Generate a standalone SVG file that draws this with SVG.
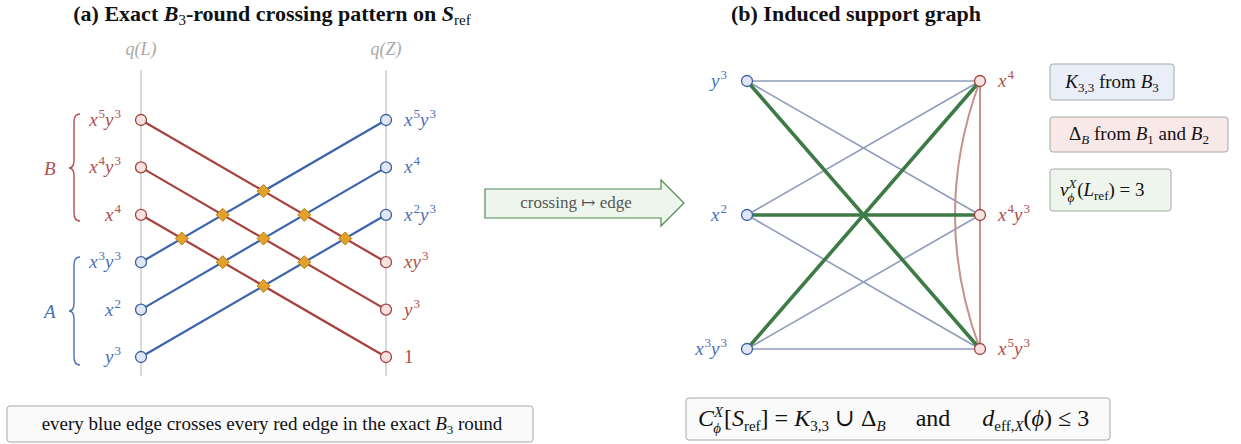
<svg xmlns="http://www.w3.org/2000/svg" width="1241" height="444" viewBox="0 0 1241 444">
<style>
text{font-family:"Liberation Serif","DejaVu Serif",serif;}
.title{font-size:22px;font-weight:bold;fill:#111;}
.it{font-style:italic;}
.lb{font-size:19px;font-style:italic;fill:#4a6fb8;}
.lr{font-size:19px;font-style:italic;fill:#b04e4c;}
.up{font-style:normal;}
.sup{font-size:13px;font-style:normal;}
.ax{stroke:#d9d9d9;stroke-width:2;}
.axl{font-size:18px;font-style:italic;fill:#a8a8a8;}
.eb{stroke:#3d63ac;stroke-width:2.2;fill:none;}
.er{stroke:#a8403c;stroke-width:2.2;fill:none;}
.nb{fill:#dfe7f5;stroke:#3d5f9f;stroke-width:1.3;}
.nr{fill:#f7e2e2;stroke:#a5423f;stroke-width:1.3;}
.cx{fill:#e2a12d;stroke:#b8800f;stroke-width:1;}
.gk{stroke:#8e9cba;stroke-width:1.6;fill:none;}
.gg{stroke:#3d7a46;stroke-width:3.6;fill:none;}
.gr{stroke:#c78f8e;stroke-width:2;fill:none;}
.box{stroke:#a8a8a8;stroke-width:1;}
.bt{font-size:19px;fill:#111;}
.sb{font-size:13px;}
</style>
<defs>
<polygon id="dia" points="0,-6.5 6.5,0 0,6.5 -6.5,0"/>
</defs>

<!-- Titles -->
<text class="title" x="272" y="21" text-anchor="middle">(a) Exact <tspan class="it">B</tspan><tspan font-size="15" font-weight="normal" dy="4">3</tspan><tspan dy="-4">-round crossing pattern on </tspan><tspan class="it">S</tspan><tspan font-size="15" font-weight="normal" dy="4">ref</tspan></text>
<text class="title" x="856" y="21" text-anchor="middle">(b) Induced support graph</text>

<!-- Panel (a) -->
<g id="axes">
<line class="ax" x1="141" y1="70" x2="141" y2="376"/>
<line class="ax" x1="386" y1="70" x2="386" y2="376"/>
<text class="axl" x="141" y="55" text-anchor="middle">q(L)</text>
<text class="axl" x="386" y="55" text-anchor="middle">q(Z)</text>
</g>

<g id="braces">
<path d="M80,114 Q74,114 74,122 L74,160 Q74,168 69,168 Q74,168 74,176 L74,213 Q74,221 80,221" fill="none" stroke="#b04e4c" stroke-width="1.4"/>
<text class="lr" x="44" y="175">B</text>
<path d="M80,257 Q74,257 74,265 L74,303 Q74,311 69,311 Q74,311 74,319 L74,357 Q74,365 80,365" fill="none" stroke="#4a6fb8" stroke-width="1.4"/>
<text class="lb" x="44" y="318">A</text>
</g>

<g id="edges-a">
<line class="eb" x1="141" y1="262.2" x2="386" y2="120"/>
<line class="eb" x1="141" y1="309.6" x2="386" y2="167.4"/>
<line class="eb" x1="141" y1="357" x2="386" y2="214.8"/>
<line class="er" x1="141" y1="120" x2="386" y2="262.2"/>
<line class="er" x1="141" y1="167.4" x2="386" y2="309.6"/>
<line class="er" x1="141" y1="214.8" x2="386" y2="357"/>
</g>

<g id="crossings">
<use href="#dia" class="cx" x="263.5" y="191.1"/>
<use href="#dia" class="cx" x="304.3" y="214.8"/>
<use href="#dia" class="cx" x="345.2" y="238.5"/>
<use href="#dia" class="cx" x="222.7" y="214.8"/>
<use href="#dia" class="cx" x="263.5" y="238.5"/>
<use href="#dia" class="cx" x="304.3" y="262.2"/>
<use href="#dia" class="cx" x="181.8" y="238.5"/>
<use href="#dia" class="cx" x="222.7" y="262.2"/>
<use href="#dia" class="cx" x="263.5" y="285.9"/>
</g>

<g id="left-nodes">
<circle class="nr" cx="141" cy="120" r="5.5"/>
<circle class="nr" cx="141" cy="167.4" r="5.5"/>
<circle class="nr" cx="141" cy="214.8" r="5.5"/>
<circle class="nb" cx="141" cy="262.2" r="5.5"/>
<circle class="nb" cx="141" cy="309.6" r="5.5"/>
<circle class="nb" cx="141" cy="357" r="5.5"/>
<text class="lr" x="121" y="126" text-anchor="end">x<tspan class="sup" dx="1" dy="-8">5</tspan><tspan dy="8">y</tspan><tspan class="sup" dx="1" dy="-8">3</tspan></text>
<text class="lr" x="121" y="173.4" text-anchor="end">x<tspan class="sup" dx="1" dy="-8">4</tspan><tspan dy="8">y</tspan><tspan class="sup" dx="1" dy="-8">3</tspan></text>
<text class="lr" x="121" y="220.8" text-anchor="end">x<tspan class="sup" dx="1" dy="-8">4</tspan></text>
<text class="lb" x="121" y="268.2" text-anchor="end">x<tspan class="sup" dx="1" dy="-8">3</tspan><tspan dy="8">y</tspan><tspan class="sup" dx="1" dy="-8">3</tspan></text>
<text class="lb" x="121" y="315.6" text-anchor="end">x<tspan class="sup" dx="1" dy="-8">2</tspan></text>
<text class="lb" x="121" y="363" text-anchor="end">y<tspan class="sup" dx="1" dy="-8">3</tspan></text>
</g>

<g id="right-nodes">
<circle class="nb" cx="386" cy="120" r="5.5"/>
<circle class="nb" cx="386" cy="167.4" r="5.5"/>
<circle class="nb" cx="386" cy="214.8" r="5.5"/>
<circle class="nr" cx="386" cy="262.2" r="5.5"/>
<circle class="nr" cx="386" cy="309.6" r="5.5"/>
<circle class="nr" cx="386" cy="357" r="5.5"/>
<text class="lb" x="404" y="126">x<tspan class="sup" dx="1" dy="-8">5</tspan><tspan dy="8">y</tspan><tspan class="sup" dx="1" dy="-8">3</tspan></text>
<text class="lb" x="404" y="173.4">x<tspan class="sup" dx="1" dy="-8">4</tspan></text>
<text class="lb" x="404" y="220.8">x<tspan class="sup" dx="1" dy="-8">2</tspan><tspan dy="8">y</tspan><tspan class="sup" dx="1" dy="-8">3</tspan></text>
<text class="lr" x="404" y="268.2">xy<tspan class="sup" dx="1" dy="-8">3</tspan></text>
<text class="lr" x="404" y="315.6">y<tspan class="sup" dx="1" dy="-8">3</tspan></text>
<text class="lr up" x="404" y="363">1</text>
</g>

<g id="note-a">
<rect class="box" x="7" y="406" width="526" height="36" rx="3" fill="#fafafa"/>
<text class="bt" x="272" y="430" text-anchor="middle">every blue edge crosses every red edge in the exact <tspan class="it">B</tspan><tspan class="sb" dy="4">3</tspan><tspan dy="-4"> round</tspan></text>
</g>

<!-- Arrow -->
<g id="arrow">
<path d="M485,189 L661,189 L661,180 L684,203 L661,226 L661,218 L485,218 Z" fill="#eef5ec" stroke="#4f8a52" stroke-width="1.2"/>
<text x="576" y="208" font-size="17" fill="#555" text-anchor="middle">crossing ↦ edge</text>
</g>

<!-- Panel (b) -->
<g id="graph-edges">
<line class="gk" x1="747" y1="81" x2="980" y2="81"/>
<line class="gk" x1="747" y1="81" x2="980" y2="215"/>
<line class="gk" x1="747" y1="81" x2="980" y2="349"/>
<line class="gk" x1="747" y1="215" x2="980" y2="81"/>
<line class="gk" x1="747" y1="215" x2="980" y2="215"/>
<line class="gk" x1="747" y1="215" x2="980" y2="349"/>
<line class="gk" x1="747" y1="349" x2="980" y2="81"/>
<line class="gk" x1="747" y1="349" x2="980" y2="215"/>
<line class="gk" x1="747" y1="349" x2="980" y2="349"/>
<line class="gr" x1="980" y1="81" x2="980" y2="349"/>
<path class="gr" d="M980,81 Q930,215 980,349"/>
<line class="gg" x1="747" y1="81" x2="980" y2="349"/>
<line class="gg" x1="747" y1="215" x2="980" y2="215"/>
<line class="gg" x1="747" y1="349" x2="980" y2="81"/>
</g>

<g id="graph-left">
<circle class="nb" cx="747" cy="81" r="5.5"/>
<circle class="nb" cx="747" cy="215" r="5.5"/>
<circle class="nb" cx="747" cy="349" r="5.5"/>
<text class="lb" x="727" y="87" text-anchor="end">y<tspan class="sup" dx="1" dy="-8">3</tspan></text>
<text class="lb" x="727" y="221" text-anchor="end">x<tspan class="sup" dx="1" dy="-8">2</tspan></text>
<text class="lb" x="727" y="355" text-anchor="end">x<tspan class="sup" dx="1" dy="-8">3</tspan><tspan dy="8">y</tspan><tspan class="sup" dx="1" dy="-8">3</tspan></text>
</g>

<g id="graph-right">
<circle class="nr" cx="980" cy="81" r="5.5"/>
<circle class="nr" cx="980" cy="215" r="5.5"/>
<circle class="nr" cx="980" cy="349" r="5.5"/>
<text class="lr" x="998" y="87">x<tspan class="sup" dx="1" dy="-8">4</tspan></text>
<text class="lr" x="998" y="221">x<tspan class="sup" dx="1" dy="-8">4</tspan><tspan dy="8">y</tspan><tspan class="sup" dx="1" dy="-8">3</tspan></text>
<text class="lr" x="998" y="355">x<tspan class="sup" dx="1" dy="-8">5</tspan><tspan dy="8">y</tspan><tspan class="sup" dx="1" dy="-8">3</tspan></text>
</g>

<g id="legend-k33">
<rect class="box" x="1050" y="64" width="124" height="36" rx="3" fill="#e9eef9"/>
<text class="bt" x="1112" y="88" text-anchor="middle"><tspan class="it">K</tspan><tspan class="sb" dy="4">3,3</tspan><tspan dy="-4"> from </tspan><tspan class="it">B</tspan><tspan class="sb" dy="4">3</tspan></text>
</g>
<g id="legend-delta">
<rect class="box" x="1050" y="117" width="178" height="35" rx="3" fill="#f9e8e8"/>
<text class="bt" x="1139" y="140" text-anchor="middle">Δ<tspan class="it sb" dy="4">B</tspan><tspan dy="-4"> from </tspan><tspan class="it">B</tspan><tspan class="sb" dy="4">1</tspan><tspan dy="-4"> and </tspan><tspan class="it">B</tspan><tspan class="sb" dy="4">2</tspan></text>
</g>
<g id="legend-nu">
<rect class="box" x="1050" y="169" width="121" height="42" rx="3" fill="#edf5ec"/>
<text class="bt" x="1060" y="196"><tspan class="it">ν</tspan><tspan class="it sb" dy="-8">X</tspan><tspan class="it sb" dx="-9" dy="14">ϕ</tspan><tspan dx="3" dy="-6">(</tspan><tspan class="it">L</tspan><tspan class="sb" dy="4">ref</tspan><tspan dy="-4">) = 3</tspan></text>
</g>

<g id="formula">
<rect class="box" x="686" y="398" width="424" height="42" rx="3" fill="#fafafa"/>
<text x="698" y="426" font-size="24" fill="#111"><tspan class="it">C</tspan><tspan class="it" font-size="15" dy="-9">X</tspan><tspan class="it" font-size="15" dx="-10" dy="16">ϕ</tspan><tspan dx="3" dy="-7">[</tspan><tspan class="it">S</tspan><tspan font-size="15" dy="5">ref</tspan><tspan dy="-5">] = </tspan><tspan class="it">K</tspan><tspan font-size="15" dy="5">3,3</tspan><tspan dy="-5"> ∪ Δ</tspan><tspan class="it" font-size="15" dy="5">B</tspan><tspan dy="-5" dx="30">and</tspan><tspan class="it" dx="32">d</tspan><tspan font-size="15" dy="5">eff,</tspan><tspan class="it" font-size="15">X</tspan><tspan dy="-5">(</tspan><tspan class="it">ϕ</tspan><tspan>) ≤ 3</tspan></text>
</g>
</svg>
